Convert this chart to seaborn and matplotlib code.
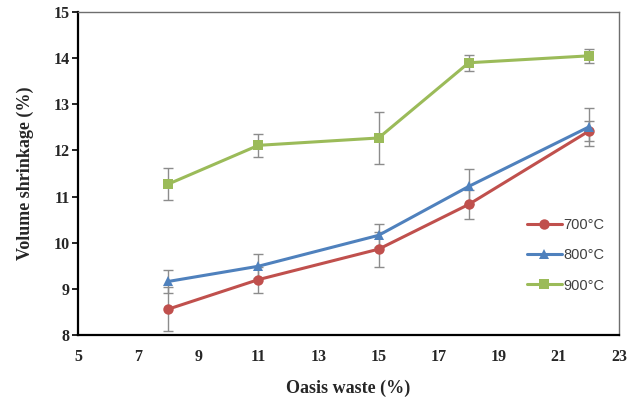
import matplotlib
matplotlib.use("Agg")
import matplotlib.pyplot as plt
import seaborn as sns
import pandas as pd

waste = [8, 11, 15, 18, 22]
s700 = [8.56, 9.20, 9.86, 10.83, 12.42]
s800 = [9.16, 9.49, 10.16, 11.22, 12.51]
s900 = [11.27, 12.11, 12.27, 13.90, 14.05]
e700 = [0.47, 0.28, 0.38, 0.32, 0.22]
e800 = [0.24, 0.26, 0.25, 0.38, 0.41]
e900 = [0.35, 0.25, 0.57, 0.17, 0.15]
labels = ["700°C", "800°C", "900°C"]
xticks = [5, 7, 9, 11, 13, 15, 17, 19, 21, 23]
yticks = [8, 9, 10, 11, 12, 13, 14, 15]

colors = ["#C0504D", "#4F81BD", "#9BBB59"]
markers = ["o", "^", "s"]

sns.set_style("white")
rows = []
for lab, vals in zip(labels, [s700, s800, s900]):
    for x, v in zip(waste, vals):
        rows.append({"waste": x, "shrink": v, "temp": lab})
df = pd.DataFrame(rows)

fig = plt.figure(figsize=(6.4, 4.04), dpi=100)
ax = fig.add_axes([0.1219, 0.1708, 0.8453, 0.7995])

for lab, vals, errs in zip(labels, [s700, s800, s900], [e700, e800, e900]):
    ax.errorbar(waste, vals, yerr=errs, fmt="none", ecolor="#8C8C8C",
                elinewidth=1.0, capsize=3.5, capthick=1.0, zorder=2)

sns.lineplot(data=df, x="waste", y="shrink", hue="temp", style="temp",
             palette=colors, markers=markers, dashes=False, markersize=7.5,
             markeredgewidth=0, linewidth=2.2, ax=ax, zorder=3, legend=True)

ax.set_xlim(5, 23)
ax.set_ylim(8, 15)
ax.set_xticks(xticks)
ax.set_yticks(yticks)
tfont = {"family": "Liberation Serif", "weight": "bold", "size": 11.5}
ax.set_xticklabels([str(t) for t in xticks], fontdict=tfont)
ax.set_yticklabels([str(t) for t in yticks], fontdict=tfont)
ax.tick_params(axis="x", length=0, pad=10)
ax.tick_params(axis="y", length=4, width=1.2, direction="out", left=True, pad=2, color="black")

ax.set_xlabel("Oasis waste (%)", fontdict={"family": "Liberation Serif", "weight": "bold", "size": 13}, labelpad=11)
ax.set_ylabel("Volume shrinkage (%)", fontdict={"family": "Liberation Serif", "weight": "bold", "size": 13}, labelpad=14)

for side in ["left", "bottom"]:
    ax.spines[side].set_color("black")
    ax.spines[side].set_linewidth(1.6)
for side in ["top", "right"]:
    ax.spines[side].set_color("#6E6E6E")
    ax.spines[side].set_linewidth(1.0)

leg = ax.legend(loc="center left", bbox_to_anchor=(0.805, 0.247), frameon=False,
                handlelength=2.4, handletextpad=0.1, labelspacing=1.12,
                prop={"family": "Liberation Sans", "size": 10.5})
for t in leg.get_texts():
    t.set_color("#404040")

fig.savefig("out.png", dpi=100)
